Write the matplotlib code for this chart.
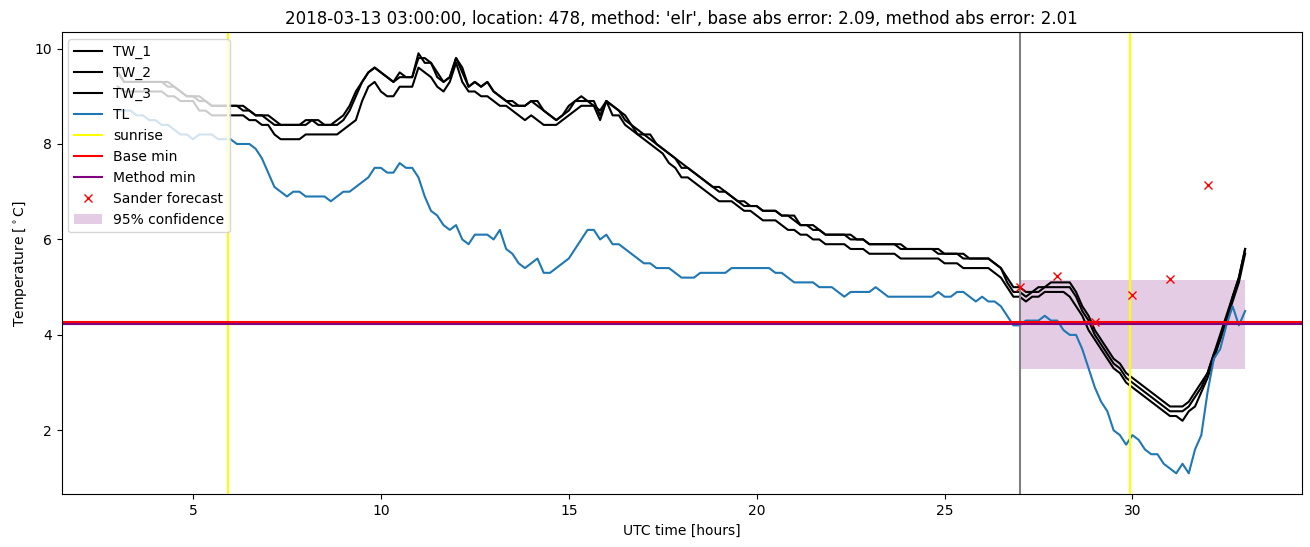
import numpy as np
import matplotlib
matplotlib.use("Agg")
import matplotlib.pyplot as plt

# 10 minute samples, 03:00 -> 33:00 UTC (six values per hour, plus the last one)
start_hour = 3
end_hour = 33
steps_per_hour = 6

tw_1 = [
    9.5, 9.3, 9.3, 9.3, 9.3, 9.3,
    9.3, 9.3, 9.2, 9.2, 9.1, 9.0,
    9.0, 8.9, 8.9, 8.8, 8.8, 8.8,
    8.8, 8.8, 8.7, 8.7, 8.6, 8.6,
    8.5, 8.4, 8.4, 8.4, 8.4, 8.4,
    8.5, 8.5, 8.4, 8.4, 8.4, 8.5,
    8.6, 8.8, 9.1, 9.3, 9.5, 9.6,
    9.5, 9.4, 9.3, 9.5, 9.4, 9.4,
    9.9, 9.7, 9.7, 9.4, 9.3, 9.4,
    9.8, 9.5, 9.2, 9.3, 9.2, 9.3,
    9.1, 9.0, 8.9, 8.8, 8.8, 8.8,
    8.9, 8.8, 8.7, 8.6, 8.5, 8.6,
    8.8, 8.9, 8.9, 8.9, 8.9, 8.6,
    8.9, 8.8, 8.7, 8.5, 8.4, 8.2,
    8.2, 8.1, 8.0, 7.9, 7.8, 7.7,
    7.5, 7.5, 7.4, 7.3, 7.2, 7.1,
    7.0, 7.0, 6.9, 6.8, 6.7, 6.7,
    6.7, 6.6, 6.6, 6.6, 6.5, 6.5,
    6.4, 6.3, 6.3, 6.2, 6.2, 6.1,
    6.1, 6.1, 6.1, 6.0, 6.0, 6.0,
    5.9, 5.9, 5.9, 5.9, 5.9, 5.8,
    5.8, 5.8, 5.8, 5.8, 5.8, 5.7,
    5.7, 5.7, 5.7, 5.6, 5.6, 5.6,
    5.6, 5.6, 5.5, 5.4, 5.2, 5.0,
    5.0, 4.9, 4.9, 5.0, 5.0, 5.1,
    5.1, 5.1, 5.1, 4.9, 4.6, 4.4,
    4.1, 3.9, 3.7, 3.5, 3.4, 3.2,
    3.1, 3.0, 2.9, 2.8, 2.7, 2.6,
    2.5, 2.5, 2.5, 2.6, 2.8, 3.0,
    3.2, 3.6, 4.0, 4.4, 4.8, 5.2,
    5.8,
]

tw_2 = [
    9.5, 9.3, 9.3, 9.3, 9.3, 9.3,
    9.3, 9.3, 9.3, 9.2, 9.1, 9.0,
    9.0, 9.0, 8.9, 8.8, 8.8, 8.8,
    8.8, 8.8, 8.8, 8.7, 8.6, 8.6,
    8.6, 8.5, 8.4, 8.4, 8.4, 8.4,
    8.4, 8.5, 8.5, 8.4, 8.4, 8.4,
    8.5, 8.7, 9.0, 9.3, 9.5, 9.6,
    9.5, 9.4, 9.3, 9.4, 9.4, 9.4,
    9.8, 9.8, 9.7, 9.5, 9.3, 9.4,
    9.8, 9.6, 9.2, 9.3, 9.2, 9.3,
    9.1, 9.0, 8.9, 8.9, 8.8, 8.8,
    8.9, 8.9, 8.7, 8.6, 8.5, 8.6,
    8.7, 8.9, 9.0, 8.9, 8.8, 8.7,
    8.9, 8.8, 8.7, 8.6, 8.4, 8.3,
    8.2, 8.2, 8.0, 7.9, 7.8, 7.7,
    7.6, 7.5, 7.4, 7.3, 7.2, 7.1,
    7.1, 7.0, 6.9, 6.8, 6.8, 6.7,
    6.7, 6.6, 6.6, 6.6, 6.5, 6.5,
    6.5, 6.3, 6.3, 6.3, 6.2, 6.1,
    6.1, 6.1, 6.1, 6.1, 6.0, 6.0,
    5.9, 5.9, 5.9, 5.9, 5.9, 5.9,
    5.8, 5.8, 5.8, 5.8, 5.8, 5.8,
    5.7, 5.7, 5.7, 5.7, 5.6, 5.6,
    5.6, 5.6, 5.5, 5.4, 5.1, 4.9,
    4.9, 4.8, 4.9, 4.9, 5.0, 5.0,
    5.0, 5.0, 5.0, 4.8, 4.5, 4.3,
    4.0, 3.8, 3.6, 3.4, 3.3, 3.1,
    3.0, 2.9, 2.8, 2.7, 2.6, 2.5,
    2.4, 2.4, 2.4, 2.5, 2.7, 2.9,
    3.2, 3.6, 3.9, 4.3, 4.8, 5.2,
    5.8,
]

tw_3 = [
    9.2, 9.1, 9.1, 9.1, 9.1, 9.1,
    9.1, 9.1, 9.0, 9.0, 8.9, 8.9,
    8.9, 8.7, 8.7, 8.6, 8.6, 8.6,
    8.6, 8.6, 8.6, 8.5, 8.5, 8.4,
    8.4, 8.2, 8.1, 8.1, 8.1, 8.1,
    8.2, 8.2, 8.2, 8.2, 8.2, 8.2,
    8.3, 8.4, 8.5, 8.9, 9.2, 9.3,
    9.1, 9.0, 9.0, 9.2, 9.2, 9.2,
    9.6, 9.5, 9.4, 9.2, 9.1, 9.3,
    9.7, 9.3, 9.1, 9.1, 9.0, 9.0,
    8.9, 8.8, 8.8, 8.7, 8.6, 8.5,
    8.6, 8.5, 8.4, 8.4, 8.4, 8.5,
    8.6, 8.7, 8.8, 8.8, 8.8, 8.5,
    8.9, 8.6, 8.6, 8.4, 8.3, 8.2,
    8.1, 8.0, 7.9, 7.8, 7.6, 7.5,
    7.3, 7.3, 7.2, 7.1, 7.0, 6.9,
    6.8, 6.8, 6.8, 6.7, 6.6, 6.6,
    6.5, 6.4, 6.4, 6.4, 6.3, 6.2,
    6.2, 6.1, 6.1, 6.0, 6.0, 5.9,
    5.9, 5.9, 5.9, 5.8, 5.8, 5.8,
    5.7, 5.7, 5.7, 5.7, 5.7, 5.6,
    5.6, 5.6, 5.6, 5.6, 5.6, 5.6,
    5.5, 5.5, 5.5, 5.4, 5.4, 5.4,
    5.4, 5.4, 5.3, 5.2, 5.0, 4.8,
    4.8, 4.7, 4.8, 4.8, 4.9, 4.9,
    4.9, 4.9, 4.8, 4.6, 4.4, 4.1,
    3.9, 3.7, 3.5, 3.3, 3.2, 3.0,
    2.9, 2.8, 2.7, 2.6, 2.5, 2.4,
    2.3, 2.3, 2.2, 2.4, 2.5, 2.8,
    3.1, 3.5, 3.9, 4.3, 4.7, 5.1,
    5.7,
]

tl = [
    8.7, 8.7, 8.7, 8.6, 8.6, 8.5,
    8.5, 8.4, 8.4, 8.3, 8.2, 8.2,
    8.1, 8.2, 8.2, 8.2, 8.1, 8.1,
    8.1, 8.0, 8.0, 8.0, 7.9, 7.7,
    7.4, 7.1, 7.0, 6.9, 7.0, 7.0,
    6.9, 6.9, 6.9, 6.9, 6.8, 6.9,
    7.0, 7.0, 7.1, 7.2, 7.3, 7.5,
    7.5, 7.4, 7.4, 7.6, 7.5, 7.5,
    7.3, 6.9, 6.6, 6.5, 6.3, 6.2,
    6.3, 6.0, 5.9, 6.1, 6.1, 6.1,
    6.0, 6.2, 5.8, 5.7, 5.5, 5.4,
    5.5, 5.6, 5.3, 5.3, 5.4, 5.5,
    5.6, 5.8, 6.0, 6.2, 6.2, 6.0,
    6.1, 5.9, 5.9, 5.8, 5.7, 5.6,
    5.5, 5.5, 5.4, 5.4, 5.4, 5.3,
    5.2, 5.2, 5.2, 5.3, 5.3, 5.3,
    5.3, 5.3, 5.4, 5.4, 5.4, 5.4,
    5.4, 5.4, 5.4, 5.3, 5.3, 5.2,
    5.1, 5.1, 5.1, 5.1, 5.0, 5.0,
    5.0, 4.9, 4.8, 4.9, 4.9, 4.9,
    4.9, 5.0, 4.9, 4.8, 4.8, 4.8,
    4.8, 4.8, 4.8, 4.8, 4.8, 4.9,
    4.8, 4.8, 4.9, 4.9, 4.8, 4.7,
    4.8, 4.7, 4.7, 4.6, 4.4, 4.2,
    4.2, 4.3, 4.3, 4.3, 4.4, 4.3,
    4.3, 4.1, 4.0, 4.0, 3.7, 3.3,
    2.9, 2.6, 2.4, 2.0, 1.9, 1.7,
    1.9, 1.8, 1.6, 1.5, 1.5, 1.3,
    1.2, 1.1, 1.3, 1.1, 1.6, 1.9,
    2.8, 3.5, 3.7, 4.2, 4.6, 4.2,
    4.5,
]

sunrise_hours = [5.93, 29.93]
forecast_start = 27
base_min = 4.27
method_min = 4.22
sander_hours = [27, 28, 29, 30, 31, 32]
sander_temp = [5.0, 5.24, 4.27, 4.84, 5.17, 7.15]
conf_hours = [27, 33]
conf_low = 3.28
conf_high = 5.14

hours = np.linspace(start_hour, end_hour, (end_hour - start_hour) * steps_per_hour + 1)

plt.figure(figsize=(13.1, 5.47), dpi=100)
plt.axes([61.5 / 1310, 52.7 / 547, 1240 / 1310, 462 / 547])

plt.plot(hours, tw_1, color="black", label="TW_1")
plt.plot(hours, tw_2, color="black", label="TW_2")
plt.plot(hours, tw_3, color="black", label="TW_3")
plt.plot(hours, tl, color="C0", label="TL")
plt.axvline(sunrise_hours[0], color="yellow", label="sunrise")
plt.axvline(sunrise_hours[1], color="yellow")
plt.axvline(forecast_start, color="grey")
plt.axhline(base_min, color="red", label="Base min")
plt.axhline(method_min, color="purple", label="Method min")
plt.plot(sander_hours, sander_temp, "rx", label="Sander forecast")
plt.fill_between(conf_hours, conf_low, conf_high, color="purple", alpha=0.2, linewidth=0, label="95% confidence")

plt.xlabel("UTC time [hours]")
plt.ylabel(r"Temperature [$^\circ$C]")
plt.title("2018-03-13 03:00:00, location: 478, method: 'elr', base abs error: 2.09, method abs error: 2.01")
plt.legend(loc="upper left")
plt.savefig("out.png")
plt.close()
